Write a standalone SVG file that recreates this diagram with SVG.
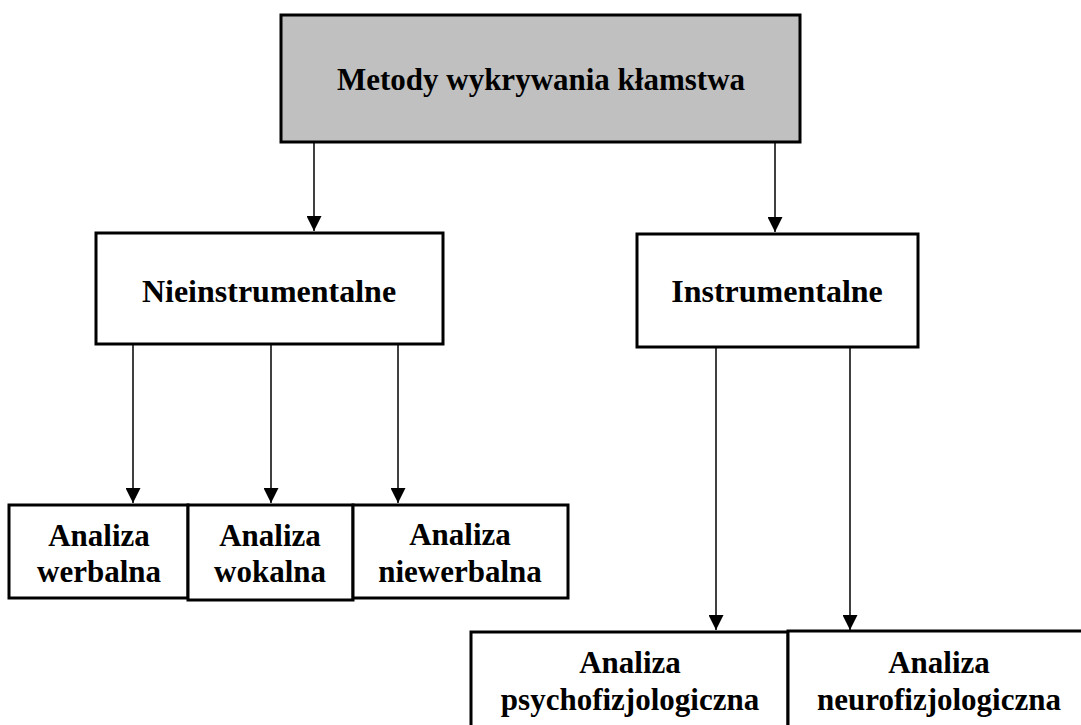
<svg xmlns="http://www.w3.org/2000/svg" width="1081" height="725" viewBox="0 0 1081 725">
<style>
.box{fill:#fff;stroke:#000;stroke-width:3}
.top{fill:#c0c0c0;stroke:#000;stroke-width:3}
.t{font-family:"Liberation Serif","Times New Roman",serif;font-weight:bold;font-size:32px;text-anchor:middle;fill:#000}
.s{font-size:31px}
.c{stroke:#000;stroke-width:1.5;fill:none}
</style>
<defs>
<marker id="ah" markerWidth="15" markerHeight="15" refX="15" refY="7.5" orient="auto" markerUnits="userSpaceOnUse" viewBox="0 0 15 15">
<path d="M0,0 L15,7.5 L0,15 Z" fill="#000"/>
</marker>
</defs>
<g id="connectors">
<line class="c" x1="314" y1="142" x2="314" y2="231" marker-end="url(#ah)"/>
<line class="c" x1="775" y1="142" x2="775" y2="232" marker-end="url(#ah)"/>
<line class="c" x1="133" y1="344" x2="133" y2="503" marker-end="url(#ah)"/>
<line class="c" x1="271" y1="344" x2="271" y2="503" marker-end="url(#ah)"/>
<line class="c" x1="398" y1="344" x2="398" y2="503" marker-end="url(#ah)"/>
<line class="c" x1="716" y1="347" x2="716" y2="630" marker-end="url(#ah)"/>
<line class="c" x1="850" y1="347" x2="850" y2="630" marker-end="url(#ah)"/>
</g>
<g id="root">
<rect class="top" x="281" y="15" width="519" height="127"/>
<text class="t s" x="541" y="90">Metody wykrywania kłamstwa</text>
</g>
<g id="nieinstrumentalne">
<rect class="box" x="96" y="233" width="347" height="111"/>
<text class="t" x="269" y="302">Nieinstrumentalne</text>
</g>
<g id="instrumentalne">
<rect class="box" x="637" y="234" width="281" height="113"/>
<text class="t" x="777" y="302">Instrumentalne</text>
</g>
<g id="werbalna">
<rect class="box" x="9" y="505" width="179" height="93"/>
<text class="t s" x="99" y="546">Analiza</text>
<text class="t s" x="99" y="582">werbalna</text>
</g>
<g id="wokalna">
<rect class="box" x="188" y="505" width="165" height="95"/>
<text class="t s" x="270" y="546">Analiza</text>
<text class="t s" x="270" y="582">wokalna</text>
</g>
<g id="niewerbalna">
<rect class="box" x="353" y="505" width="215" height="93"/>
<text class="t s" x="460" y="545">Analiza</text>
<text class="t s" x="460" y="582">niewerbalna</text>
</g>
<g id="psychofizjologiczna">
<rect class="box" x="471" y="632" width="317" height="110"/>
<text class="t s" x="630" y="673">Analiza</text>
<text class="t s" x="630" y="710">psychofizjologiczna</text>
</g>
<g id="neurofizjologiczna">
<rect class="box" x="788" y="631" width="310" height="110"/>
<text class="t s" x="939" y="673">Analiza</text>
<text class="t s" x="939" y="710">neurofizjologiczna</text>
</g>
</svg>
